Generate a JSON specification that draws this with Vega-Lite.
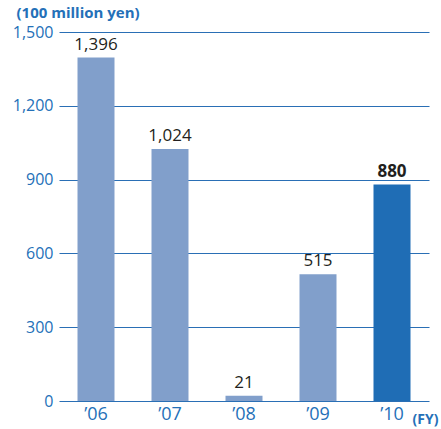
{
  "$schema": "https://vega.github.io/schema/vega-lite/v6.json",
  "autosize": "none",
  "width": 370,
  "height": 369,
  "padding": {"left": 59, "top": 32, "right": 12, "bottom": 28},
  "background": "white",
  "data": {
    "values": [
      {"year": "’06", "value": 1396, "latest": "no"},
      {"year": "’07", "value": 1024, "latest": "no"},
      {"year": "’08", "value": 21, "latest": "no"},
      {"year": "’09", "value": 515, "latest": "no"},
      {"year": "’10", "value": 880, "latest": "yes"}
    ]
  },
  "config": {
    "view": {"stroke": null},
    "font": "Open Sans"
  },
  "encoding": {
    "x": {
      "field": "year",
      "type": "nominal",
      "sort": null,
      "scale": {"paddingInner": 0.5, "paddingOuter": 0.25},
      "axis": {
        "title": "(FY)",
        "titleFont": "Open Sans",
        "titleFontSize": 14,
        "titleFontWeight": "bold",
        "titleColor": "#2470b8",
        "titleAlign": "left",
        "titleAnchor": "start",
        "titleBaseline": "alphabetic",
        "titleX": 353,
        "titleY": 22,
        "labelAngle": 0,
        "labelFontSize": 18,
        "labelColor": "#2470b8",
        "labelPadding": 4,
        "ticks": false,
        "domain": false,
        "grid": false
      }
    },
    "y": {
      "field": "value",
      "type": "quantitative",
      "scale": {"domain": [0, 1500], "nice": false},
      "axis": {
        "title": "(100 million yen)",
        "titleFont": "Open Sans",
        "titleFontSize": 15,
        "titleFontWeight": "bold",
        "titleColor": "#2470b8",
        "titleAngle": 0,
        "titleAlign": "left",
        "titleAnchor": "start",
        "titleBaseline": "alphabetic",
        "titleX": -43,
        "titleY": -15,
        "values": [0, 300, 600, 900, 1200, 1500],
        "format": ",d",
        "labelFontSize": 16,
        "labelColor": "#2470b8",
        "labelPadding": 6,
        "ticks": false,
        "domain": false,
        "grid": true,
        "gridColor": "#2a6fb5",
        "gridWidth": 1.1
      }
    }
  },
  "layer": [
    {
      "mark": {"type": "bar"},
      "encoding": {
        "color": {
          "field": "latest",
          "type": "nominal",
          "scale": {"domain": ["no", "yes"], "range": ["#819fcb", "#1f6db5"]},
          "legend": null
        }
      }
    },
    {
      "transform": [{"filter": "datum.latest === 'no'"}],
      "mark": {"type": "text", "baseline": "bottom", "dy": -4, "fontSize": 17, "color": "#231f20"},
      "encoding": {
        "text": {"field": "value", "type": "quantitative", "format": ",d"}
      }
    },
    {
      "transform": [{"filter": "datum.latest === 'yes'"}],
      "mark": {"type": "text", "baseline": "bottom", "dy": -4, "fontSize": 17, "fontWeight": "bold", "color": "#231f20"},
      "encoding": {
        "text": {"field": "value", "type": "quantitative", "format": ",d"}
      }
    }
  ]
}
